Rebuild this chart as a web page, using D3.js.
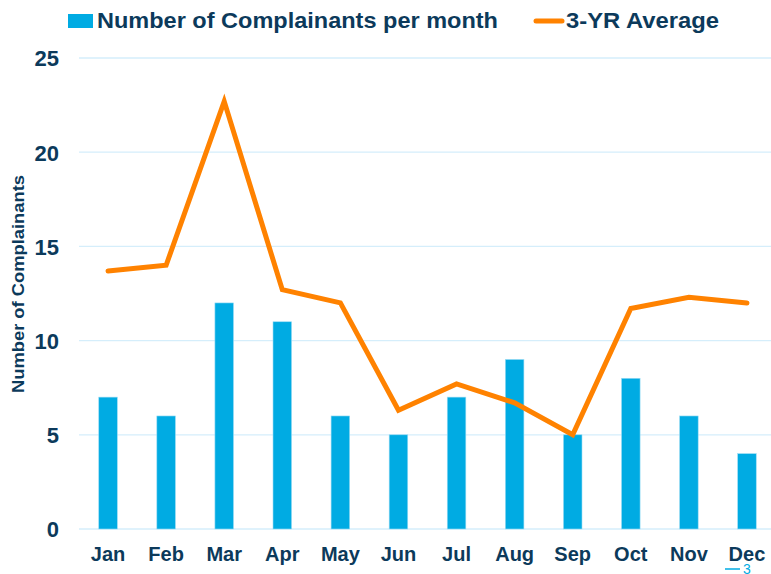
<!DOCTYPE html>
<html>
<head>
<meta charset="utf-8">
<script src="https://cdn.jsdelivr.net/npm/d3@7"></script>
<style>
  body { margin: 0; background: #fff; }
  svg { display: block; font-family: "Liberation Sans", Arial, sans-serif; }
</style>
</head>
<body>
<svg id="chart" width="771" height="574"></svg>
<script>
const months = ['Jan', 'Feb', 'Mar', 'Apr', 'May', 'Jun', 'Jul', 'Aug', 'Sep', 'Oct', 'Nov', 'Dec'];
const complainants = [7, 6, 12, 11, 6, 5, 7, 9, 5, 8, 6, 4];
const threeYrAvg = [13.7, 14.0, 22.7, 12.7, 12.0, 6.3, 7.7, 6.7, 5.0, 11.7, 12.3, 12.0];
const yTicks = [0, 5, 10, 15, 20, 25];

const textColor = '#0c3a5b';
const barColor = '#00abe3';
const lineColor = '#ff8200';
const gridColor = '#d5eefb';

const svg = d3.select('#chart');

const x = d3.scaleBand()
   .domain(months)
   .range([79, 776])
   .paddingInner(0.68)
   .paddingOuter(0.34);

const y = d3.scaleLinear()
   .domain([0, 25])
   .range([529, 58]);

// gridlines
svg.append('g')
   .selectAll('line')
   .data(yTicks)
   .enter()
   .append('line')
      .attr('x1', 79)
      .attr('x2', 771)
      .attr('y1', d => y(d))
      .attr('y2', d => y(d))
      .attr('stroke', gridColor)
      .attr('stroke-width', 1.3);

// y axis labels
const yAxis = svg.append('g')
   .attr('transform', 'translate(59,0)')
   .call(d3.axisLeft(y).tickValues(yTicks).tickSize(0).tickPadding(0));
yAxis.select('.domain').remove();
yAxis.selectAll('text')
   .attr('fill', textColor)
   .style('font-size', '22px')
   .style('font-weight', 'bold')
   .attr('dy', '0.36em');

// x axis labels
const xAxis = svg.append('g')
   .attr('transform', 'translate(0,529)')
   .call(d3.axisBottom(x).tickSize(0).tickPadding(0));
xAxis.select('.domain').remove();
xAxis.selectAll('text')
   .attr('fill', textColor)
   .attr('y', 32)
   .attr('dy', 0)
   .style('font-size', '20px')
   .style('font-weight', 'bold');

// bars
svg.append('g')
   .selectAll('rect')
   .data(complainants)
   .enter()
   .append('rect')
      .attr('x', (d, i) => x(months[i]))
      .attr('y', d => y(d))
      .attr('width', x.bandwidth())
      .attr('height', d => y(0) - y(d))
      .attr('fill', barColor)
      .attr('stroke', '#9ddcf4')
      .attr('stroke-width', 0.6);

// 3-yr average line
const line = d3.line()
   .x((d, i) => x(months[i]) + x.bandwidth() / 2)
   .y(d => y(d));

svg.append('path')
   .datum(threeYrAvg)
   .attr('d', line)
   .attr('fill', 'none')
   .attr('stroke', lineColor)
   .attr('stroke-width', 5)
   .attr('stroke-linecap', 'round')
   .attr('stroke-linejoin', 'miter');

// y axis title
svg.append('text')
   .text('Number of Complainants')
   .attr('transform', 'translate(24,284) rotate(-90)')
   .attr('text-anchor', 'middle')
   .attr('fill', textColor)
   .attr('textLength', 218)
   .attr('lengthAdjust', 'spacingAndGlyphs')
   .style('font-size', '16px')
   .style('font-weight', 'bold');

// legend
const legend = svg.append('g');
legend.append('rect')
   .attr('x', 68).attr('y', 14)
   .attr('width', 25).attr('height', 14)
   .attr('fill', barColor);
legend.append('text')
   .text('Number of Complainants per month')
   .attr('x', 97).attr('y', 28)
   .attr('fill', textColor)
   .attr('textLength', 401)
   .attr('lengthAdjust', 'spacingAndGlyphs')
   .style('font-size', '22px')
   .style('font-weight', 'bold');
legend.append('line')
   .attr('x1', 536).attr('x2', 562)
   .attr('y1', 21).attr('y2', 21)
   .attr('stroke', lineColor)
   .attr('stroke-width', 5)
   .attr('stroke-linecap', 'round');
legend.append('text')
   .text('3-YR Average')
   .attr('x', 566).attr('y', 28)
   .attr('fill', textColor)
   .attr('textLength', 153)
   .attr('lengthAdjust', 'spacingAndGlyphs')
   .style('font-size', '22px')
   .style('font-weight', 'bold');

// page number mark
svg.append('line')
   .attr('x1', 725).attr('x2', 740)
   .attr('y1', 569).attr('y2', 569)
   .attr('stroke', barColor)
   .attr('stroke-width', 1.5);
svg.append('text')
   .text('3')
   .attr('x', 743).attr('y', 574)
   .attr('fill', barColor)
   .style('font-size', '14px');
</script>
</body>
</html>
